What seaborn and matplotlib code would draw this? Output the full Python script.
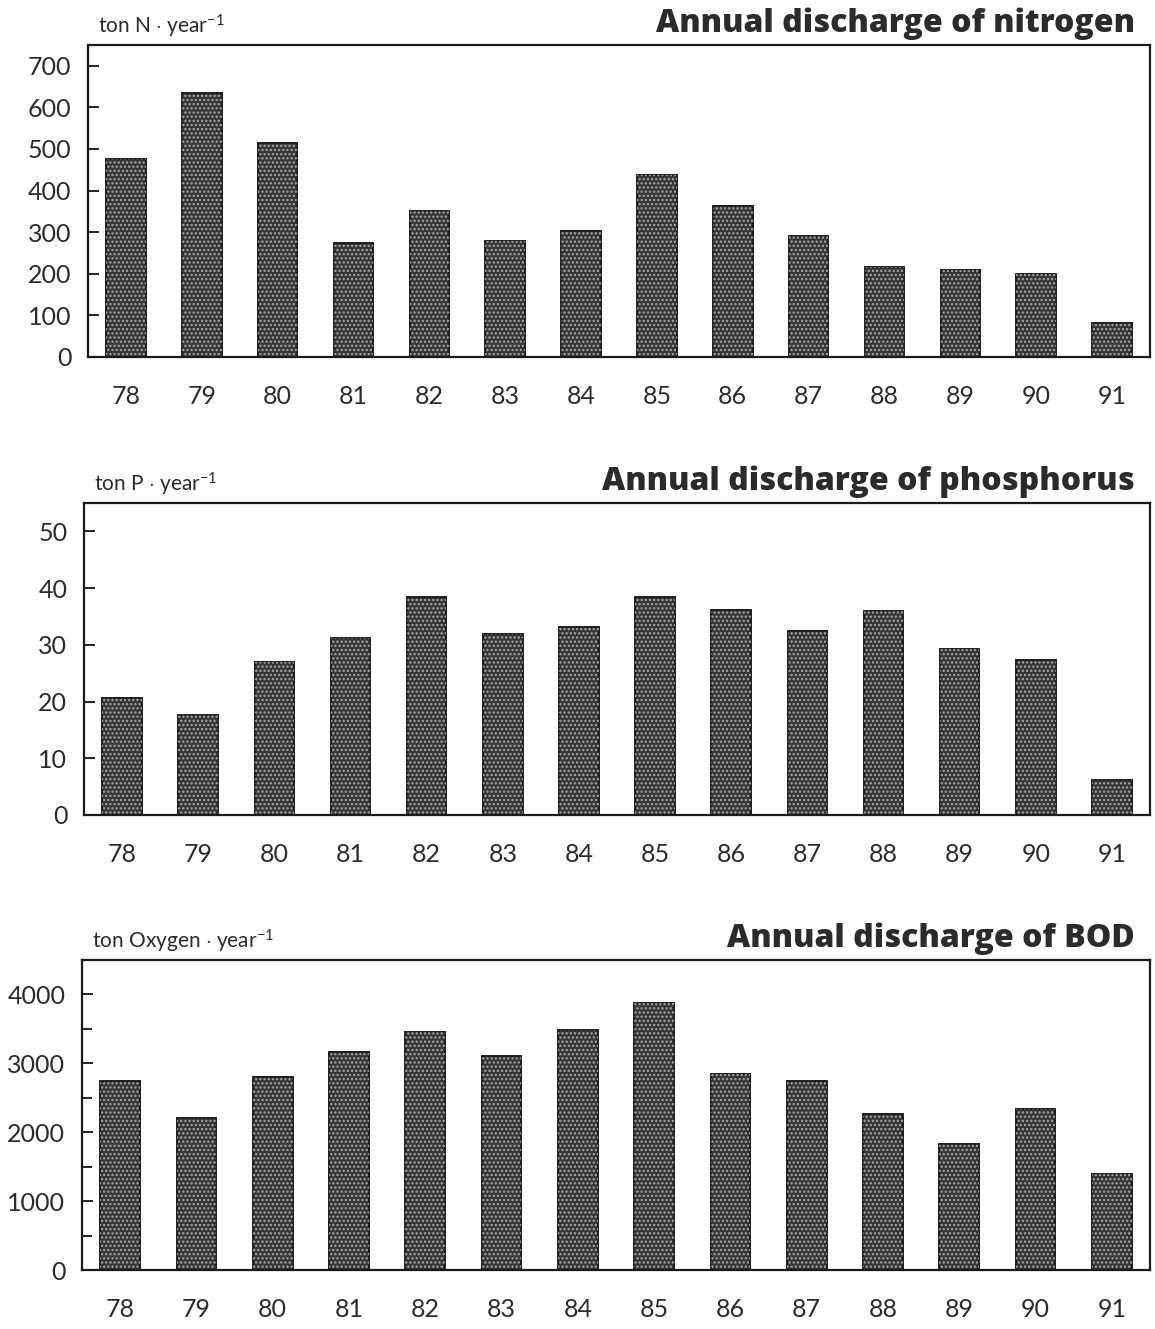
import matplotlib
matplotlib.use("Agg")
import matplotlib.pyplot as plt
import seaborn as sns
import pandas as pd
from matplotlib.ticker import MultipleLocator

years = ["78", "79", "80", "81", "82", "83", "84", "85", "86", "87", "88", "89", "90", "91"]
nitrogen = [475, 635, 515, 275, 350, 280, 302, 438, 362, 290, 217, 210, 200, 81]
phosphorus = [20.6, 17.7, 27.0, 31.2, 38.5, 31.9, 33.2, 38.5, 36.2, 32.4, 36.0, 29.3, 27.3, 6.2]
bod = [2740, 2200, 2800, 3160, 3450, 3100, 3480, 3880, 2840, 2740, 2270, 1830, 2340, 1390]

titles = ["Annual discharge of nitrogen", "Annual discharge of phosphorus", "Annual discharge of BOD"]
units = [r"ton N $\cdot$ year$^{-1}$", r"ton P $\cdot$ year$^{-1}$", r"ton Oxygen $\cdot$ year$^{-1}$"]
ylims = [750, 55, 4500]
ysteps = [100, 10, 1000]
yminor = [None, None, 500]

sns.set_theme(style="white")
plt.rcParams["font.family"] = ["Lato", "DejaVu Sans"]
plt.rcParams["mathtext.fontset"] = "custom"
plt.rcParams["mathtext.rm"] = "Lato"
plt.rcParams["mathtext.it"] = "Lato"
plt.rcParams["hatch.linewidth"] = 1.1

txt = "#2b2b2b"
fig = plt.figure(figsize=(11.55, 13.29), dpi=100)
boxes = [
    [88 / 1155, 1 - 357 / 1329, 1062 / 1155, 312 / 1329],
    [84 / 1155, 1 - 815 / 1329, 1066 / 1155, 312 / 1329],
    [82 / 1155, 1 - 1270 / 1329, 1068 / 1155, 310 / 1329],
]
datasets = [nitrogen, phosphorus, bod]

for i, (box, vals) in enumerate(zip(boxes, datasets)):
    ax = fig.add_axes(box)
    df = pd.DataFrame({"year": years, "value": vals})
    sns.barplot(data=df, x="year", y="value", color="#363636", saturation=1,
                width=0.52, edgecolor="#1e1e1e", linewidth=1.4, ax=ax, errorbar=None)
    sns.barplot(data=df, x="year", y="value", facecolor="none", saturation=1,
                width=0.52, edgecolor="#a8a8a8", linewidth=0, hatch="....",
                ax=ax, errorbar=None)
    ax.set_xlim(-0.5, len(years) - 0.5)
    ax.set_ylim(0, ylims[i])
    ax.set_yticks([ysteps[i] * k for k in range(int(ylims[i] // ysteps[i]) + 1)])
    if yminor[i]:
        ax.yaxis.set_minor_locator(MultipleLocator(yminor[i]))
        ax.tick_params(axis="y", which="minor", direction="in", length=7, width=1.4,
                       color="#222222", left=True)
    ax.set_xlabel("")
    ax.set_ylabel("")
    for s in ax.spines.values():
        s.set_visible(True)
        s.set_color("#1a1a1a")
        s.set_linewidth(1.6)
    ax.tick_params(axis="y", which="major", direction="in", length=8, width=1.4,
                   color="#222222", labelsize=18, labelcolor=txt, pad=12, left=True)
    ax.tick_params(axis="x", length=0, labelsize=18, labelcolor=txt, pad=20)
    ax.text(1.0 - 15 / 1066, 1.015, titles[i], transform=ax.transAxes, ha="right",
            va="bottom", fontsize=23, fontweight="heavy", color=txt,
            family=["Open Sans", "DejaVu Sans"])
    ax.text(10 / 1066, 1.015, units[i], transform=ax.transAxes, ha="left",
            va="bottom", fontsize=15, color=txt)

fig.savefig("out.png", dpi=100, facecolor="white")
